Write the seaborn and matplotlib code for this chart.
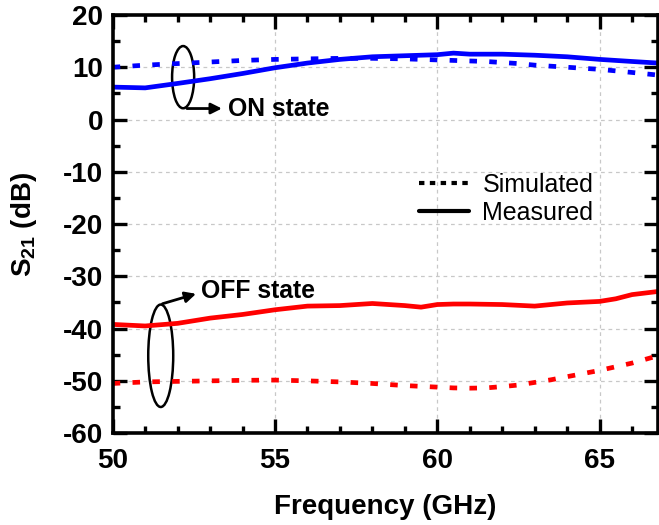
import numpy as np
import pandas as pd
import matplotlib
matplotlib.use("Agg")
import matplotlib.pyplot as plt
import seaborn as sns
from matplotlib.patches import Ellipse
from matplotlib.lines import Line2D

# --- data ---
freq_meas = [50, 51, 52, 53, 54, 55, 56, 57, 58, 59, 59.5, 60, 60.5, 61, 62, 63, 64, 65, 65.5, 66, 66.8]
on_meas = [6.2, 6.05, 6.9, 7.8, 8.8, 9.9, 10.8, 11.5, 12.0, 12.2, 12.3, 12.4, 12.7, 12.5, 12.5, 12.3, 12.0, 11.5, 11.3, 11.1, 10.8]
off_meas = [-39.2, -39.5, -39.0, -38.0, -37.3, -36.4, -35.7, -35.6, -35.2, -35.6, -35.9, -35.4, -35.3, -35.3, -35.4, -35.7, -35.1, -34.8, -34.3, -33.5, -32.9]

freq_sim = [50, 51, 52, 53, 54, 55, 56, 57, 58, 59, 60, 60.5, 61, 61.5, 62, 62.5, 63, 63.5, 64, 64.5, 65, 65.5, 66, 66.8]
on_sim = [10.0, 10.4, 10.7, 11.0, 11.3, 11.5, 11.6, 11.7, 11.7, 11.6, 11.4, 11.3, 11.2, 11.1, 10.9, 10.7, 10.4, 10.2, 10.0, 9.8, 9.6, 9.3, 9.0, 8.5]
off_sim = [-50.5, -50.2, -50.1, -50.0, -49.9, -49.85, -50.0, -50.2, -50.5, -50.9, -51.2, -51.35, -51.4, -51.35, -51.1, -50.8, -50.3, -49.8, -49.2, -48.6, -48.0, -47.3, -46.6, -45.2]

sns.set_style("ticks")
plt.rcParams['font.family'] = ['Liberation Sans', 'DejaVu Sans']
plt.rcParams['axes.unicode_minus'] = False
plt.rcParams['text.color'] = 'black'
plt.rcParams['axes.labelcolor'] = 'black'
plt.rcParams['xtick.color'] = 'black'
plt.rcParams['ytick.color'] = 'black'
plt.rcParams['axes.edgecolor'] = 'black'
plt.rcParams['mathtext.fontset'] = 'custom'
plt.rcParams['mathtext.rm'] = 'Liberation Sans:bold'
plt.rcParams['mathtext.bf'] = 'Liberation Sans:bold'

meas_df = pd.DataFrame({'freq': freq_meas, 'on': on_meas, 'off': off_meas})
sim_df = pd.DataFrame({'freq': freq_sim, 'on': on_sim, 'off': off_sim})

fig = plt.figure(figsize=(6.59, 5.25), dpi=100)
ax = fig.add_axes([0.171, 0.175, 0.8275, 0.7965])

dot = (0, (1.6, 2.6))
sns.lineplot(data=sim_df, x='freq', y='on', ax=ax, color='#0000ff', lw=3.4,
             linestyle=dot, dash_capstyle='butt')
sns.lineplot(data=meas_df, x='freq', y='on', ax=ax, color='#0000ff', lw=3.4)
sns.lineplot(data=sim_df, x='freq', y='off', ax=ax, color='#ff0000', lw=3.4,
             linestyle=dot, dash_capstyle='butt')
sns.lineplot(data=meas_df, x='freq', y='off', ax=ax, color='#ff0000', lw=3.4)

ax.set_xlim(50, 66.8)
ax.set_ylim(-60, 20)
ax.set_xticks([50, 55, 60, 65])
ax.set_xticks(np.arange(50, 67, 1), minor=True)
ax.set_yticks(np.arange(-60, 21, 10))
ax.set_yticks(np.arange(-60, 21, 5), minor=True)
ax.grid(True, which='major', color='#c8c8c8', linestyle=(0, (3, 3)), lw=0.9)

for s in ax.spines.values():
    s.set_linewidth(2.6)
ax.tick_params(which='both', direction='in', top=True, right=True, width=2.4)
ax.tick_params(which='major', length=10, labelsize=20)
ax.tick_params(axis='x', which='major', pad=11)
ax.tick_params(axis='y', which='major', pad=7)
ax.tick_params(which='minor', length=5)
for lab in ax.get_xticklabels() + ax.get_yticklabels():
    lab.set_fontweight('bold')

ax.set_xlabel('Frequency (GHz)', fontsize=20, fontweight='bold', labelpad=14)
ax.set_ylabel(r'S$_{21}$ (dB)', fontsize=20, fontweight='bold')
ax.yaxis.set_label_coords(-0.135, 0.5)

# state annotations
ax.add_patch(Ellipse((52.17, 8.1), 0.68, 11.9, fill=False, ec='black', lw=1.8))
ax.annotate('', xy=(53.45, 2.1), xytext=(52.2, 2.1),
            arrowprops=dict(arrowstyle='-|>', color='black', lw=2, mutation_scale=16))
ax.text(53.55, 2.0, 'ON state', fontsize=17.8, fontweight='bold', va='center', ha='left')

ax.add_patch(Ellipse((51.48, -45.2), 0.77, 19.6, fill=False, ec='black', lw=1.8))
ax.annotate('', xy=(52.65, -33.2), xytext=(51.45, -35.4),
            arrowprops=dict(arrowstyle='-|>', color='black', lw=2, mutation_scale=16))
ax.text(52.72, -32.9, 'OFF state', fontsize=17.8, fontweight='bold', va='center', ha='left')

handles = [Line2D([], [], color='black', lw=3, linestyle=(0, (1.3, 1.3))),
           Line2D([], [], color='black', lw=3)]
ax.legend(handles, ['Simulated', 'Measured'], loc='center left',
          bbox_to_anchor=(0.538, 0.56), borderpad=0, frameon=False, fontsize=18,
          handlelength=2.0, handletextpad=0.55, labelspacing=0.15)

fig.savefig('out.png', dpi=100)
